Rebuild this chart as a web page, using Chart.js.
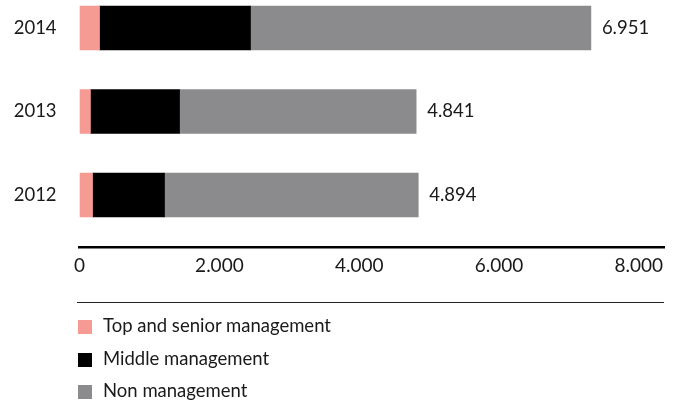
<!DOCTYPE html>
<html><head><meta charset="utf-8">
<style>
  body { margin: 0; background: #fff; }
  #wrap { position: relative; width: 682px; height: 407px; }
  #legend { position: absolute; left: 77px; top: 302px; width: 587px; border-top: 1.4px solid #222;
            font: 18.5px Lato, sans-serif; color: #1a1a1a; }
  .item { position: absolute; left: 1px; height: 20px; line-height: 20px; white-space: nowrap; }
  .item span { display: inline-block; width: 14px; height: 14px; vertical-align: -2px; margin-right: 11px; }
</style>
<script src="https://cdn.jsdelivr.net/npm/chart.js@4"></script>
</head><body>
<div id="wrap">
  <canvas id="chart" width="682" height="407"></canvas>
  <div id="legend"></div>
</div>
<script>
// Jahre (Kategorien) und Werte je Ebene
const years = [2014, 2013, 2012];
const topMgmt = [285, 155, 185];
const middleMgmt = [2160, 1275, 1030];
const nonMgmt = [4870, 3385, 3630];
const totals = [6951, 4841, 4894];
const xTicks = [0, 2000, 4000, 6000, 8000];

const C = { pink: "#f69a94", black: "#000000", grey: "#8b8b8d", ink: "#1a1a1a" };
const fmt = (n) => String(n).replace(/\B(?=(\d{3})+(?!\d))/g, ".");

Chart.defaults.font.family = "Lato, sans-serif";
Chart.defaults.color = C.ink;

// Summen rechts neben den Balken
const totalLabels = {
  id: "totalLabels",
  afterDatasetsDraw(chart) {
    const ctx = chart.ctx;
    const last = chart.getDatasetMeta(chart.data.datasets.length - 1);
    ctx.save();
    ctx.font = "18.5px Lato, sans-serif";
    ctx.fillStyle = C.ink;
    ctx.textBaseline = "middle";
    last.data.forEach((bar, i) => {
      ctx.fillText(fmt(totals[i]), bar.x + 11, bar.y);
    });
    ctx.restore();
  },
};

const chart = new Chart(document.getElementById("chart"), {
  type: "bar",
  data: {
    labels: years,
    datasets: [
      { label: "Top and senior management", data: topMgmt, backgroundColor: C.pink },
      { label: "Middle management", data: middleMgmt, backgroundColor: C.black },
      { label: "Non management", data: nonMgmt, backgroundColor: C.grey },
    ],
  },
  options: {
    indexAxis: "y",
    responsive: false,
    animation: false,
    barThickness: 44,
    layout: { padding: { left: 0, right: 18, top: 0, bottom: 0 } },
    plugins: { legend: { display: false }, tooltip: { enabled: false } },
    scales: {
      x: {
        stacked: true,
        min: 0,
        max: 8361,
        grid: { display: false, drawTicks: false },
        border: { color: "#000", width: 2.5 },
        afterBuildTicks: (s) => { s.ticks = xTicks.map((v) => ({ value: v })); },
        afterFit: (s) => { s.height = 160; },
        ticks: { padding: 7, font: { size: 19 }, callback: (v) => fmt(v), maxRotation: 0 },
      },
      y: {
        type: "linear",
        stacked: true,
        offset: false,
        bounds: "data",
        min: 2011.377,
        max: 2014.335,
        grid: { display: false, drawTicks: false, offset: false },
        border: { display: false },
        afterBuildTicks: (s) => { s.ticks = years.map((v) => ({ value: v })); },
        afterFit: (s) => { s.width = 79.6; s.paddingTop = 0; s.paddingBottom = 0; },
        ticks: { padding: 23, font: { size: 18.5 }, callback: (v) => String(v) },
      },
    },
  },
  plugins: [totalLabels],
});

// Legende als HTML unter der Linie
const legend = document.getElementById("legend");
chart.data.datasets.forEach((ds, i) => {
  const el = document.createElement("div");
  el.className = "item";
  el.style.top = (12 + i * 32.5) + "px";
  el.innerHTML = `<span style="background:${ds.backgroundColor}"></span>${ds.label}`;
  legend.appendChild(el);
});
</script>
</body></html>
